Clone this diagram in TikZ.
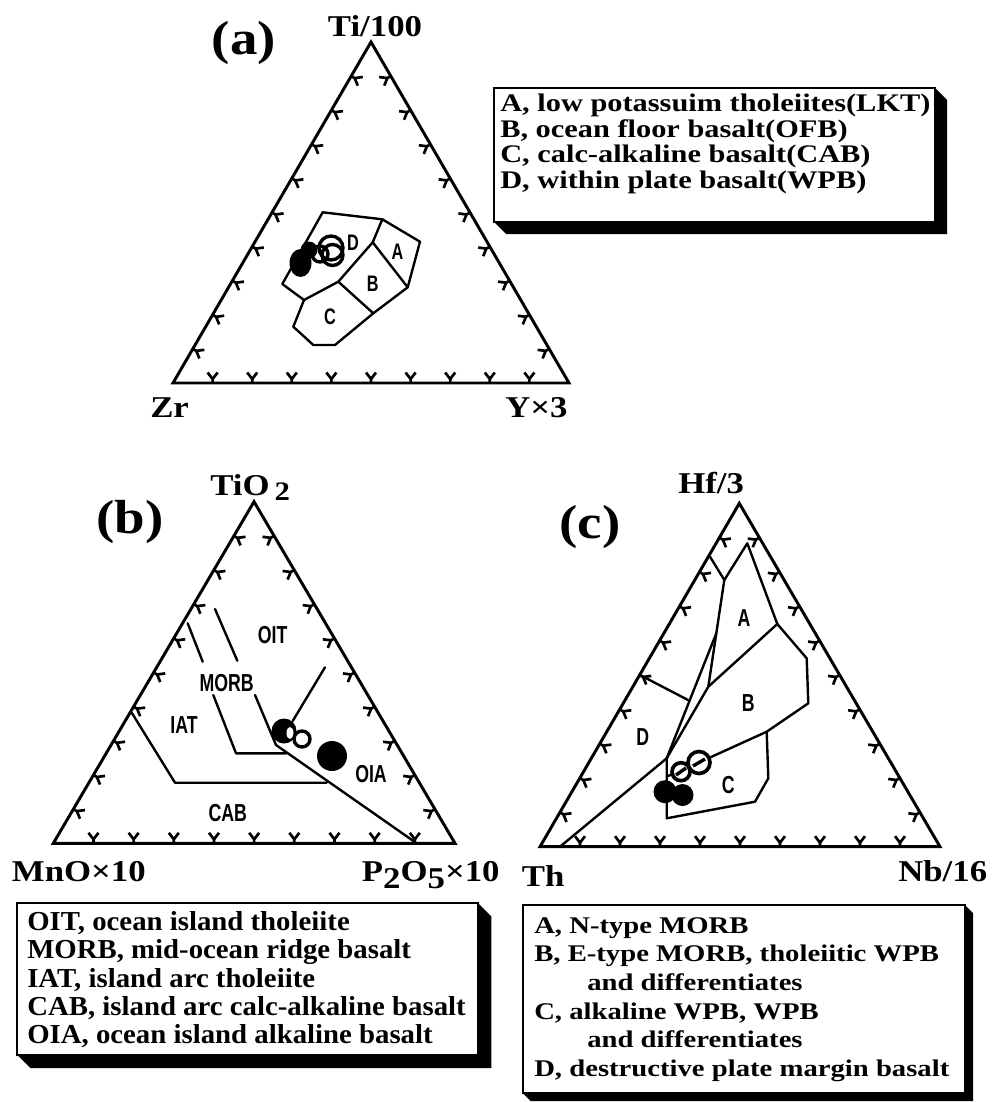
\documentclass[tikz,border=0pt]{standalone}
\usepackage{fontspec}
\setmainfont{Liberation Serif}
\newfontfamily\axf{Liberation Serif}[FakeStretch=1.15]
\newfontfamily\lgaf{Liberation Serif}[FakeStretch=1.2]
\newfontfamily\lgbf{Liberation Serif}[FakeStretch=1.05]
\newfontfamily\lgcf{Liberation Serif}[FakeStretch=1.2]
\newfontfamily\fldf{Liberation Sans}[FakeStretch=0.72]
\newcommand\tk[6]{%
  \foreach \f in {0.1,0.2,0.3,0.4,0.5,0.6,0.7,0.8,0.9}{%
    \pgfmathsetmacro\px{#1+\f*((#3)-(#1))}%
    \pgfmathsetmacro\py{#2+\f*((#4)-(#2))}%
    \draw[tickl] (\px,\py) -- ++({4*(#5)},{4*(#6)}) coordinate (tkm)
      -- ++({6.5*(#5)+5*(#6)},{6.5*(#6)-5*(#5)});
    \draw[tickl] (tkm) -- ++({6.5*(#5)-5*(#6)},{6.5*(#6)+5*(#5)});
  }}
\tikzset{
  tri/.style={line width=2.1pt, line join=miter},
  fld/.style={line width=1.7pt, line join=round, line cap=round},
  tickl/.style={line width=1.9pt},
  axl/.style={font=\axf\bfseries\fontsize{21.5}{24}\selectfont, inner sep=0pt},
  ttl/.style={font=\axf\bfseries\fontsize{34}{38}\selectfont, inner sep=0pt},
  fla/.style={font=\fldf\bfseries\fontsize{16}{18}\selectfont, inner sep=0pt},
  flb/.style={font=\fldf\bfseries\fontsize{17.5}{18}\selectfont, inner sep=0pt},
  boxs/.style={draw, line width=1.3pt, fill=white},
  shad/.style={fill=black},
  opn/.style={draw, line width=2.4pt},
  filld/.style={fill=black},
}
\begin{document}
\begin{tikzpicture}[x=0.25mm,y=-0.25mm]
\useasboundingbox (0,0) rectangle (992,1102);

% ================= (a) =================
\coordinate (a1) at (173,383);
\coordinate (a2) at (569,383);
\coordinate (a3) at (371,42);
\draw[tri] (a1) -- (a2) -- (a3) -- cycle;
\tk{173}{383}{569}{383}{0}{-1}
\tk{569}{383}{371}{42}{-0.866}{0.5}
\tk{371}{42}{173}{383}{0.866}{0.5}
\node[ttl] (ta) at (244,43) {(a)};
\node[axl, anchor=base] (topa) at (375,36) {Ti/100};
\node[axl, anchor=base west] (la1) at (150,417) {Zr};
\node[axl, anchor=base west] (la2) at (505,417) {Y×3};
% fields
\draw[fld] (322.7,212.3) -- (382.3,219.3) -- (420,241.7) -- (407.7,287.3) -- (373.3,313.3)
  -- (335,345) -- (313.3,345) -- (293.3,326.7) -- (304,300) -- (282.3,284) -- cycle;
\draw[fld] (382.3,219.3) -- (372.7,242.3) -- (338.3,281.7) -- (304,300);
\draw[fld] (372.7,242.3) -- (407.7,287.3);
\draw[fld] (338.3,281.7) -- (373.3,313.3);
\node[fla] (fa) at (397.5,252) {A};
\node[fla] (fb) at (372.7,284) {B};
\node[fla] (fc) at (330,317) {C};
\node[fla] (fd) at (353,243) {D};
% data
\fill[filld] (300.5,263) ellipse [x radius=11, y radius=14];
\fill[filld] (309,250) circle [radius=8.5];
\draw[opn] (320,254) circle [radius=8];
\draw[opn] (332.5,255) circle [radius=10.5];
\draw[opn] (331,248) circle [radius=12];
% legend a
\fill[shad] (494,222) -- (506,234) -- (947,234) -- (947,100) -- (935,88) -- cycle;
\draw[boxs] (494,88) rectangle (935,222);
\node[font=\lgaf\bfseries\fontsize{18}{18.1}\selectfont, align=left, anchor=base west, inner sep=0pt] (lga) at (500,188)
  {A, low potassuim tholeiites(LKT)\\B, ocean floor basalt(OFB)\\C, calc-alkaline basalt(CAB)\\D, within plate basalt(WPB)};

% ================= (b) =================
\coordinate (b1) at (53.3,843.3);
\coordinate (b2) at (455,843.3);
\coordinate (b3) at (254,501.7);
\draw[tri] (b1) -- (b2) -- (b3) -- cycle;
\tk{53.3}{843.3}{455}{843.3}{0}{-1}
\tk{455}{843.3}{254}{501.7}{-0.866}{0.5}
\tk{254}{501.7}{53.3}{843.3}{0.866}{0.5}
\node[ttl] (tb) at (130,522) {(b)};
\node[axl, anchor=base west] (topb) at (210,495) {TiO\,\raisebox{-4pt}{\fontsize{19}{19}\selectfont 2}};
\node[axl, anchor=base west] (lb1) at (11.7,881.7) {MnO×10};
\node[axl, anchor=base west] (lb2) at (361.7,881.7) {P\raisebox{-5pt}{2}O\raisebox{-5pt}{5}×10};
% fields
\draw[fld] (187.7,623.3) -- (202.7,661.7);
\draw[fld] (215,609) -- (237.3,660.7);
\draw[fld] (131.7,712.7) -- (175,782.7) -- (326.7,782.7);
\draw[fld] (213.3,695) -- (236,753.3) -- (286,753.3);
\draw[fld] (255,695) -- (276,745) -- (416.7,843.3);
\draw[fld] (325,667.3) -- (292.7,721);
\node[flb] (fOIT) at (272.7,635) {OIT};
\node[flb] (fMORB) at (226.7,682.7) {MORB};
\node[flb] (fIAT) at (184,725) {IAT};
\node[flb] (fOIA) at (371,774) {OIA};
\node[flb] (fCAB) at (227.7,812.7) {CAB};
% data
\fill[filld] (284,731) circle [radius=12.5];
\fill[white] (290,733) ellipse [x radius=3.5, y radius=6];
\draw[opn] (302,739) circle [radius=8];
\fill[filld] (332,756) circle [radius=15];
% legend b
\fill[shad] (17.3,1055) -- (30.3,1068) -- (491.3,1068) -- (491.3,916.3) -- (478.3,903.3) -- cycle;
\draw[boxs] (17.3,903.3) rectangle (478.3,1055);
\node[font=\lgbf\bfseries\fontsize{19.5}{20.1}\selectfont, align=left, anchor=base west, inner sep=0pt] (lgb) at (27,1043.7)
  {OIT, ocean island tholeiite\\MORB, mid-ocean ridge basalt\\IAT, island arc tholeiite\\CAB, island arc calc-alkaline basalt\\OIA, ocean island alkaline basalt};

% ================= (c) =================
\coordinate (c1) at (540,846.7);
\coordinate (c2) at (940,846.7);
\coordinate (c3) at (739.3,503.3);
\draw[tri] (c1) -- (c2) -- (c3) -- cycle;
\tk{540}{846.7}{940}{846.7}{0}{-1}
\tk{940}{846.7}{739.3}{503.3}{-0.866}{0.5}
\tk{739.3}{503.3}{540}{846.7}{0.866}{0.5}
\node[ttl] (tc) at (590,527) {(c)};
\node[axl, anchor=base west] (topc) at (678,493) {Hf/3};
\node[axl, anchor=base west] (lc1) at (521.7,886) {Th};
\node[axl, anchor=base west] (lc2) at (898,881.7) {Nb/16};
% fields
\draw[fld] (710,556.7) -- (724.3,580);
\draw[fld] (724.3,580) -- (747.3,543.3) -- (777.3,624);
\draw[fld] (724.3,580) -- (708.3,686.7);
\draw[fld] (777.3,624) -- (708.3,686.7) -- (666.7,758.3);
\draw[fld] (666.7,758.3) -- (716.3,633.3);
\draw[fld] (640,675) -- (688,700);
\draw[fld] (666.7,758.3) -- (560,846.7);
\draw[fld] (777.3,624) -- (806.7,658.3) -- (808.3,703.3) -- (766.7,731.7) -- (711.7,756.7) -- (668,776);
\draw[fld] (666.7,758.3) -- (666.7,818.3) -- (755,801.7) -- (768.3,778.3) -- (766.7,731.7);
\node[flb] (fcA) at (744,618.3) {A};
\node[flb] (fcB) at (748.3,703.3) {B};
\node[flb] (fcC) at (728.3,785) {C};
\node[flb] (fcD) at (642.7,736.7) {D};
% data
\fill[filld] (665,791.7) circle [radius=11.5];
\fill[filld] (682.5,795) circle [radius=11];
\draw[opn, fill=white, line width=2.6pt] (681,771.7) circle [radius=9];
\draw[line width=2.4pt] (676,775) -- (686,768);
\draw[opn, fill=white, line width=2.6pt] (699,762.5) circle [radius=11];
\draw[line width=2.4pt] (693,766) -- (705,759);
% legend c
\fill[shad] (522.7,1093) -- (530.7,1101) -- (973,1101) -- (973,913) -- (965,905) -- cycle;
\draw[boxs] (522.7,905) rectangle (965,1093);
\node[font=\lgcf\bfseries\fontsize{17}{20.4}\selectfont, align=left, anchor=base west, inner sep=0pt] (lgc) at (534,1076.5)
  {A, N-type MORB\\B, E-type MORB, tholeiitic WPB\\\hspace*{37.7pt}and differentiates\\C, alkaline WPB, WPB\\\hspace*{37.7pt}and differentiates\\D, destructive plate margin basalt};
\end{tikzpicture}
\end{document}
